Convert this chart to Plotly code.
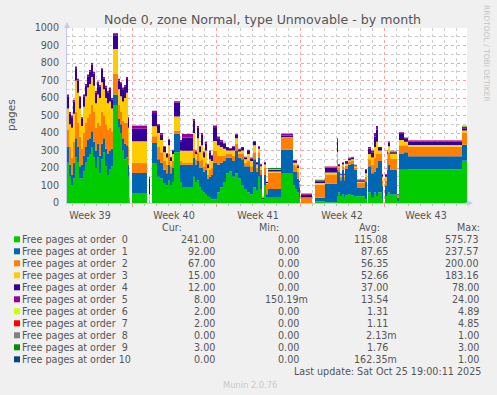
import plotly.graph_objects as go
import pandas as pd

# ---------------- data ----------------
START = pd.Timestamp("2025-09-23 14:00")
END = pd.Timestamp("2025-10-26 22:00")

hours = [0, 4, 8, 12, 16, 20, 24, 28, 32, 36, 40, 44, 48, 52, 56, 60, 64, 68, 72, 76, 80, 84, 88,
         92, 102, 106, 110, 114, 118, 122, 124, 126, 130, 160, 164, 166, 170, 180, 186, 192, 198,
         202, 206, 210, 214, 226, 230, 252, 256, 260, 264, 268, 272, 276, 280, 284, 288, 292, 300,
         306, 312, 318, 324, 330, 336, 342, 348, 354, 360, 366, 372, 378, 382, 386, 390, 394, 398,
         402, 428, 452, 456, 460, 464, 466, 468, 490, 496, 516, 540, 542, 546, 550, 554, 556, 562,
         568, 574, 580, 596, 600, 602, 608, 614, 618, 622, 630, 632, 636, 640, 642, 646, 660, 664,
         674, 682, 790, 800]

order0 = [230, 150, 100, 140, 260, 230, 140, 140, 180, 230, 260, 280, 320, 260, 200, 260, 170, 250, 290, 210, 160, 190, 210,
          560, 430, 400, 300, 250, 260, 150, 0, 0, 57, 0, 0, 0, 229, 150, 140, 110, 100,
          130, 100, 120, 290, 120, 91, 150, 120, 130, 90, 70, 60, 50, 40, 30, 20, 20, 60,
          90, 120, 170, 180, 150, 170, 140, 100, 80, 60, 50, 90, 70, 150, 80, 20, 100, 30,
          30, 171, 100, 80, 60, 30, 0, 0, 0, 10, 5, 40, 60, 40, 50, 30, 45, 50,
          45, 40, 38, 20, 0, 60, 30, 60, 40, 60, 20, 0, 40, 48, 60, 48, 10, 190,
          190, 191, 241, 241]
order1 = [90, 70, 60, 90, 110, 90, 70, 80, 90, 90, 100, 90, 90, 90, 100, 80, 100, 90, 80, 100, 120, 110, 100,
          60, 50, 50, 70, 90, 70, 70, 0, 0, 115, 0, 0, 0, 114, 100, 90, 80, 70,
          90, 70, 80, 105, 100, 127, 110, 100, 110, 110, 130, 120, 140, 100, 120, 140, 210, 160,
          140, 120, 90, 80, 90, 130, 120, 150, 130, 150, 130, 160, 110, 110, 80, 10, 60, 20,
          50, 134, 80, 100, 80, 60, 0, 0, 0, 20, 105, 150, 120, 90, 140, 100, 150, 170,
          180, 150, 48, 100, 0, 150, 140, 120, 160, 180, 80, 0, 60, 143, 160, 143, 20, 90,
          100, 76, 92, 92]
order2 = [100, 100, 100, 120, 150, 140, 170, 90, 130, 140, 130, 140, 150, 170, 130, 120, 170, 180, 130, 140, 140, 130, 100,
          120, 80, 70, 100, 120, 130, 100, 30, 0, 57, 0, 10, 0, 39, 70, 60, 50, 50,
          60, 40, 40, 20, 20, 11, 50, 30, 50, 40, 50, 30, 40, 20, 40, 40, 67, 50,
          40, 30, 20, 20, 30, 40, 20, 30, 20, 30, 30, 40, 20, 30, 30, 5, 40, 60,
          95, 66, 40, 30, 40, 20, 0, 28, 0, 75, 50, 60, 20, 20, 20, 20, 20, 15,
          15, 10, 30, 30, 0, 40, 50, 80, 80, 40, 30, 0, 30, 61, 70, 61, 10, 50,
          40, 55, 67, 67]
order3 = [120, 130, 170, 160, 180, 170, 160, 130, 150, 150, 170, 170, 160, 150, 140, 160, 160, 170, 150, 150, 150, 150, 130,
          140, 90, 90, 110, 140, 170, 110, 150, 0, 124, 0, 40, 0, 57, 80, 70, 50, 40,
          50, 30, 40, 80, 60, 70, 90, 30, 80, 50, 80, 50, 70, 40, 60, 40, 57, 60,
          50, 40, 20, 20, 30, 30, 15, 20, 20, 40, 30, 40, 20, 20, 20, 5, 20, 5,
          5, 5, 10, 20, 20, 10, 0, 3, 0, 10, 15, 40, 10, 10, 10, 10, 10, 10,
          10, 10, 5, 20, 0, 30, 40, 60, 70, 20, 20, 0, 20, 30, 35, 30, 5, 30,
          20, 10, 15, 15]
order4 = [70, 60, 60, 70, 70, 70, 60, 45, 60, 60, 65, 70, 70, 70, 60, 65, 65, 70, 60, 60, 60, 70, 50,
          78, 50, 70, 70, 65, 78, 50, 0, 0, 71, 0, 90, 0, 76, 40, 30, 30, 20,
          30, 20, 20, 78, 50, 76, 70, 15, 60, 30, 60, 30, 40, 20, 40, 30, 75, 40,
          30, 30, 15, 10, 20, 20, 10, 15, 10, 20, 15, 20, 10, 10, 10, 0, 10, 5,
          8, 10, 10, 10, 10, 5, 0, 15, 0, 10, 25, 60, 10, 5, 10, 5, 10, 10,
          8, 5, 8, 20, 0, 30, 30, 60, 70, 15, 10, 0, 10, 8, 20, 8, 3, 35,
          20, 20, 12, 12]
order5 = [10, 10, 10, 10, 10, 10, 10, 5, 10, 10, 10, 10, 10, 10, 10, 10, 10, 10, 10, 10, 10, 10, 10,
          12, 10, 10, 10, 10, 12, 10, 0, 0, 18, 0, 10, 0, 12, 10, 10, 5, 5,
          5, 5, 5, 9, 10, 19, 10, 5, 10, 5, 10, 5, 10, 5, 10, 5, 14, 10,
          10, 5, 5, 5, 5, 5, 5, 5, 5, 5, 5, 5, 5, 5, 5, 0, 5, 2,
          2, 9, 5, 5, 5, 2, 0, 4, 0, 3, 3, 20, 3, 2, 3, 2, 5, 5,
          4, 3, 2, 5, 0, 10, 10, 20, 20, 5, 5, 0, 5, 2, 5, 2, 2, 10,
          5, 5, 8, 8]
order6 = [0, 0, 0, 0, 0, 0, 0, 0, 0, 0, 0, 0, 0, 0, 0, 0, 0, 0, 0, 0, 0, 0, 0,
          0, 0, 0, 0, 0, 0, 0, 0, 0, 2, 0, 0, 0, 0, 0, 0, 0, 0,
          0, 0, 0, 0, 0, 0, 0, 0, 0, 0, 0, 0, 0, 0, 0, 0, 0, 0,
          0, 0, 0, 0, 0, 0, 0, 0, 0, 0, 0, 0, 0, 0, 0, 0, 0, 0,
          3, 1, 0, 0, 0, 0, 0, 0, 0, 0, 0, 0, 0, 0, 0, 0, 0, 2,
          0, 0, 0, 0, 0, 0, 0, 0, 0, 3, 0, 0, 0, 3, 2, 3, 0, 0,
          0, 0, 2, 2]
order7 = [0, 0, 0, 0, 0, 0, 0, 0, 0, 0, 0, 0, 0, 0, 0, 0, 0, 0, 0, 0, 0, 0, 0,
          0, 0, 0, 0, 0, 0, 0, 0, 0, 1, 0, 0, 0, 0, 0, 0, 0, 0,
          0, 0, 0, 0, 0, 0, 0, 0, 0, 0, 0, 0, 0, 0, 0, 0, 0, 0,
          0, 0, 0, 0, 0, 0, 0, 0, 0, 0, 0, 0, 0, 0, 0, 0, 0, 0,
          2, 1, 0, 0, 3, 0, 0, 4, 0, 0, 5, 0, 0, 0, 0, 0, 0, 0,
          0, 0, 4, 0, 0, 0, 0, 0, 0, 0, 0, 0, 0, 0, 0, 0, 0, 0,
          0, 2, 2, 2]
order8 = [0] * len(hours)
order9 = [0, 0, 0, 0, 0, 0, 0, 0, 0, 0, 0, 0, 0, 0, 0, 0, 0, 0, 0, 0, 0, 0, 0,
          0, 0, 0, 0, 0, 0, 0, 0, 0, 1, 0, 0, 0, 0, 0, 0, 0, 0,
          0, 0, 0, 0, 0, 0, 0, 0, 0, 0, 0, 0, 0, 0, 0, 0, 0, 0,
          0, 0, 0, 0, 0, 0, 0, 0, 0, 0, 0, 0, 0, 0, 0, 0, 0, 0,
          5, 1, 0, 0, 0, 0, 0, 0, 0, 5, 0, 0, 0, 0, 0, 0, 0, 0,
          2, 0, 0, 0, 0, 0, 0, 0, 0, 0, 0, 0, 0, 3, 2, 3, 0, 0,
          0, 0, 3, 3]
order10 = [0] * len(hours)

series = [order0, order1, order2, order3, order4, order5, order6, order7, order8, order9, order10]
labels = ["Free pages at order\u00a0\u00a0%d" % i for i in range(10)] + ["Free pages at order 10"]
colors = ["#00CC00", "#0066B3", "#FF8000", "#FFCC00", "#330099", "#990099",
          "#CCFF00", "#FF0000", "#808080", "#008F00", "#00487D"]
cur = ["241.00", "92.00", "67.00", "15.00", "12.00", "8.00", "2.00", "2.00", "0.00", "3.00", "0.00"]
mins = ["0.00", "0.00", "0.00", "0.00", "0.00", "150.19m", "0.00", "0.00", "0.00", "0.00", "0.00"]
avgs = ["115.08", "87.65", "56.35", "52.66", "37.00", "13.54", "1.31", "1.11", "2.13m", "1.76", "162.35m"]
maxs = ["575.73", "237.57", "200.00", "183.16", "78.00", "24.00", "4.89", "4.85", "1.00", "3.00", "1.00"]

times = [START + pd.Timedelta(hours=h) for h in hours]

# ---------------- figure ----------------
W, H = 497, 395
PL, PR, PT, PB = 67, 467, 28, 203

def px(x):
    return (x - PL) / (PR - PL)

def py(y):
    return (PB - y) / (PB - PT)

fig = go.Figure()
for name, vals, col in zip(labels, series, colors):
    fig.add_trace(go.Scatter(
        x=times, y=vals, name=name, mode="lines",
        line=dict(width=0, shape="hv", color=col),
        fillcolor=col, stackgroup="one", showlegend=False, hoverinfo="skip"))

FONT = "DejaVu Sans"
TXT = "#555555"
RED_GRID = "rgba(235,90,90,0.55)"
MINOR_GRID = "rgba(170,170,170,0.6)"
AXIS = "#C8C8F0"

fig.update_layout(
    width=W, height=H,
    margin=dict(l=PL, r=W - PR, t=PT, b=H - PB, pad=0),
    paper_bgcolor="#F0F0F0", plot_bgcolor="#FFFFFF",
    font=dict(family=FONT, size=9.6, color=TXT),
    hovermode=False,
    xaxis=dict(
        type="date", range=[START, END],
        tick0="2025-09-29", dtick=604800000,
        tickformat="Week %V", ticklabelmode="period",
        showgrid=True, gridcolor=RED_GRID, griddash="dot", gridwidth=1,
        ticks="outside", ticklen=3, tickcolor=RED_GRID,
        tickfont=dict(family=FONT, size=9.6, color=TXT),
        showline=True, linecolor=AXIS, linewidth=1, zeroline=False,
        minor=dict(dtick=86400000, tick0="2025-09-23", showgrid=True,
                   gridcolor=MINOR_GRID, griddash="dot", ticks="outside",
                   ticklen=2, tickcolor="#BBBBBB"),
        fixedrange=True,
    ),
    yaxis=dict(
        range=[0, 1000], tick0=0, dtick=100,
        showgrid=True, gridcolor=RED_GRID, griddash="dot", gridwidth=1,
        ticks="", ticklabelstandoff=5,
        tickfont=dict(family=FONT, size=9.6, color=TXT),
        showline=True, linecolor=AXIS, linewidth=1, zeroline=False,
        minor=dict(dtick=50, showgrid=True, gridcolor=MINOR_GRID, griddash="dot"),
        fixedrange=True,
    ),
)

ann = []
shapes = []

def text(x, y, s, size=9.6, color=TXT, xanchor="left", angle=0):
    ann.append(dict(x=px(x), y=py(y), xref="paper", yref="paper", text=s,
                    showarrow=False, xanchor=xanchor, yanchor="middle",
                    textangle=angle, borderpad=0,
                    font=dict(family=FONT, size=size, color=color)))

# title
text(262, 19, "Node 0, zone Normal, type Unmovable - by month", size=12.6, xanchor="center")
# y label
text(11, 115, "pages", size=10.5, xanchor="center", angle=-90)
# rrdtool credit
text(487, 53, "RRDTOOL / TOBI OETIKER", size=7.5, color="#C4C4C4", xanchor="center", angle=90)

# legend header
text(161, 227, "Cur:", xanchor="left")
text(258, 227, "Min:", xanchor="left")
text(358, 227, "Avg:", xanchor="left")
text(456, 227, "Max:", xanchor="left")

def value(xr, y, s):
    if s.endswith("m"):
        text(xr + 9.3, y, s, xanchor="right")
    else:
        text(xr, y, s, xanchor="right")

for i in range(11):
    yy = 239.3 + 12 * i
    shapes.append(dict(type="rect", xref="paper", yref="paper",
                       x0=px(14), x1=px(20), y0=py(yy + 3), y1=py(yy - 3),
                       fillcolor=colors[i], line=dict(width=0)))
    text(21, yy, labels[i])
    value(216, yy, cur[i])
    value(300, yy, mins[i])
    value(389, yy, avgs[i])
    value(480, yy, maxs[i])

text(482, 371, "Last update: Sat Oct 25 19:00:11 2025", xanchor="right")
text(249.5, 384.5, "Munin 2.0.76", size=8.3, color="#C8C8C8", xanchor="center")

# axis arrows
ann.append(dict(x=px(67), y=py(22), xref="paper", yref="paper", ax=0, ay=9,
                showarrow=True, arrowhead=2, arrowsize=1.2, arrowwidth=1, arrowcolor=AXIS, text=""))
ann.append(dict(x=px(473), y=py(203), xref="paper", yref="paper", ax=-9, ay=0,
                showarrow=True, arrowhead=2, arrowsize=1.2, arrowwidth=1, arrowcolor=AXIS, text=""))

fig.update_layout(annotations=ann, shapes=shapes)
fig.write_html("out.html", config={"displayModeBar": False, "staticPlot": True},
               post_script="document.body.style.margin='0';")
